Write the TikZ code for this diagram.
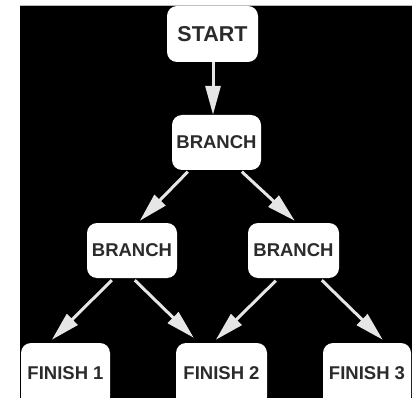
\documentclass[tikz,border=0pt]{standalone}
\usepackage{fontspec}
\setmainfont{Liberation Sans}
\usetikzlibrary{arrows.meta}
\definecolor{arrowgray}{HTML}{E6E6E6}
\definecolor{textgray}{HTML}{2B2B2B}
\tikzset{
  box/.style={fill=white, rounded corners=10pt, inner sep=0pt, minimum height=55pt,
    font=\bfseries\fontsize{18.5}{20}\selectfont, text=textgray},
  fbox/.style={box, minimum height=64pt},
  arr/.style={draw=arrowgray, line width=3pt, -{Triangle[length=29pt,width=15pt,fill=arrowgray]}}
}
\begin{document}
\begin{tikzpicture}[x=1pt,y=-1pt]
\useasboundingbox (0,0) rectangle (412,398);
\fill[white] (0,0) rectangle (412,398);
\fill[black] (20,5) rectangle (412,398);
\draw[gray!55, line width=0.8pt] (20,5.4) -- (412,5.4);
\begin{scope}
\clip (20,5) rectangle (412,398);
\node[box, minimum width=91pt, minimum height=56pt, font=\bfseries\fontsize{21.5}{23}\selectfont] (start) at (212.5,34) {START};
\node[box, minimum width=89pt] (b0) at (216.5,142.5) {BRANCH};
\node[box, minimum width=90pt] (b1) at (132,250.5) {BRANCH};
\node[box, minimum width=91pt] (b2) at (293.5,250.5) {BRANCH};
\node[fbox, minimum width=89pt] (f1) at (65.5,375) {\raisebox{4.5pt}{FINISH 1}};
\node[fbox, minimum width=91pt] (f2) at (221.5,375) {\raisebox{4.5pt}{FINISH 2}};
\node[fbox, minimum width=88pt] (f3) at (367,375) {\raisebox{4.5pt}{FINISH 3}};

\draw[arr] ([xshift=0.5pt]start.south) -- ([xshift=0.5pt]start.south |- b0.north);
\draw[arr] ([xshift=16pt,yshift=-1.5pt]b0.south west) -- ([xshift=53pt,yshift=2pt]b1.north west);
\draw[arr] ([xshift=70pt,yshift=-1.5pt]b0.south west) -- ([xshift=47pt,yshift=2pt]b2.north west);
\draw[arr] ([xshift=25pt,yshift=-2pt]b1.south west) -- ([xshift=31pt,yshift=3pt]f1.north west);
\draw[arr] ([xshift=48pt,yshift=-2pt]b1.south west) -- ([xshift=18pt,yshift=5pt]f2.north west);
\draw[arr] ([xshift=28pt,yshift=-2.5pt]b2.south west) -- ([xshift=40pt,yshift=3pt]f2.north west);
\draw[arr] ([xshift=74pt,yshift=-2pt]b2.south west) -- ([xshift=60pt,yshift=3pt]f3.north west);
\end{scope}
\end{tikzpicture}
\end{document}
